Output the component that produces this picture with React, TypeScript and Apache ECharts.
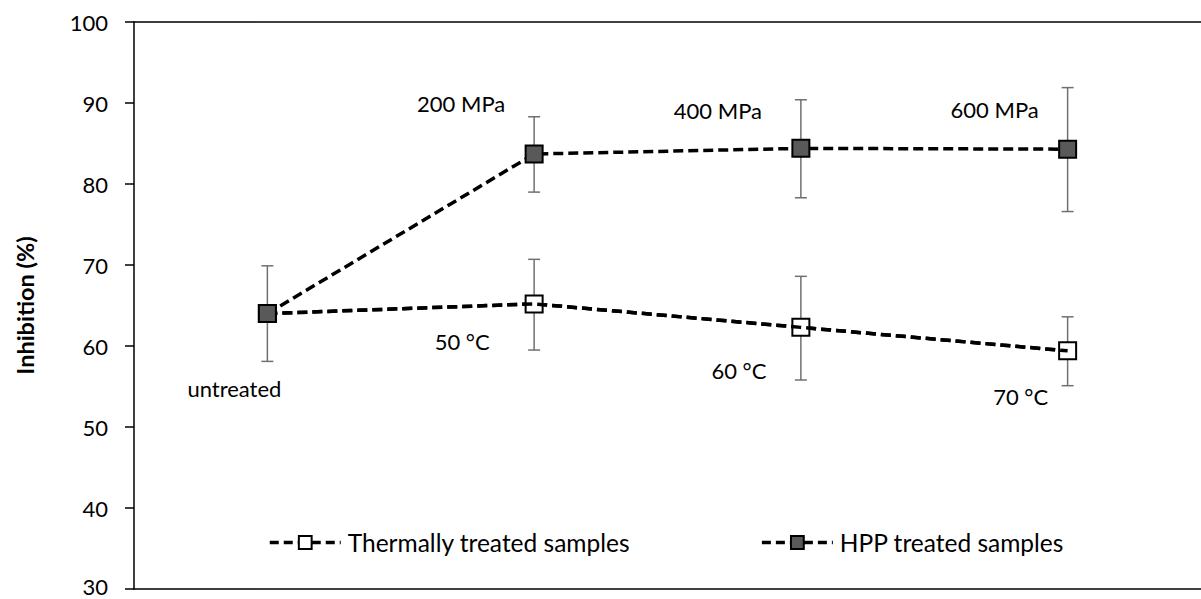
import React, { useEffect, useRef } from "react";
import * as echarts from "echarts";

// ---- Data ----
const categories = ["untreated", "T1", "T2", "T3"];
const thermalName = "Thermally treated samples";
const hppName = "HPP treated samples";
const thermalValues = [64.0, 65.2, 62.3, 59.4];
const thermalLow = [58.1, 59.5, 55.8, 55.1];
const thermalHigh = [69.9, 70.7, 68.6, 63.6];
const hppValues = [64.0, 83.7, 84.4, 84.3];
const hppLow = [58.1, 79.0, 78.3, 76.6];
const hppHigh = [69.9, 88.3, 90.4, 91.9];
const thermalLabels = ["", "50 °C", "60 °C", "70 °C"];
const hppLabels = ["untreated", "200 MPa", "400 MPa", "600 MPa"];
const yMin = 30;
const yMax = 100;
const yInterval = 10;

// ---- Styling (label offsets in px) ----
const thermalLabelOffsets = [[0, 0], [-72, 38], [-62, 43], [-47, 46]];
const hppLabelOffsets = [[-33, 75], [-73, -51], [-83, -38], [-73, -40]];
const FONT = "Lato, 'Open Sans', sans-serif";

function errorData(low: number[], high: number[], skipFirst: boolean) {
  const out: number[][] = [];
  low.forEach((l, i) => {
    if (skipFirst && i === 0) return;
    out.push([i, l, high[i]]);
  });
  return out;
}

function renderError(params: any, api: any) {
  const x = api.value(0);
  const lo = api.coord([x, api.value(1)]);
  const hi = api.coord([x, api.value(2)]);
  const w = 6;
  const style = { stroke: "#707070", lineWidth: 1.5 };
  return {
    type: "group",
    children: [
      { type: "line", shape: { x1: lo[0], y1: lo[1], x2: hi[0], y2: hi[1] }, style },
      { type: "line", shape: { x1: lo[0] - w, y1: lo[1], x2: lo[0] + w, y2: lo[1] }, style },
      { type: "line", shape: { x1: hi[0] - w, y1: hi[1], x2: hi[0] + w, y2: hi[1] }, style },
    ],
  };
}

function labeled(values: number[], labels: string[], offsets: number[][]) {
  return values.map((v, i) => ({
    value: v,
    label: {
      show: labels[i] !== "",
      formatter: labels[i],
      position: "inside",
      offset: offsets[i],
      color: "#000",
      fontSize: 22,
      fontFamily: FONT,
    },
  }));
}

export default function App() {
  const ref = useRef<HTMLDivElement>(null);
  useEffect(() => {
    if (!ref.current) return;
    const chart = echarts.init(ref.current, undefined, { renderer: "svg" });
    const lineStyle = { color: "#000", width: 3.5, type: [10, 5] as any, cap: "butt" as any };
    chart.setOption({
      animation: false,
      backgroundColor: "#fff",
      textStyle: { fontFamily: FONT },
      grid: { left: 134, right: 0, top: 22, bottom: 10, containLabel: false },
      legend: {
        data: [thermalName, hppName],
        left: 263,
        top: 525,
        itemWidth: 71,
        itemHeight: 16,
        itemGap: 130,
        lineStyle: { width: 3.5, color: "#000", type: [9, 5] },
        textStyle: { fontSize: 24.5, color: "#000", fontFamily: FONT, padding: [0, 0, 0, 2] },
      },
      xAxis: [
        {
          type: "category",
          data: categories,
          boundaryGap: true,
          axisLine: { show: true, lineStyle: { color: "#000", width: 1.5 } },
          axisTick: { show: false },
          axisLabel: { show: false },
          splitLine: { show: false },
        },
        {
          type: "category",
          data: categories,
          position: "top",
          boundaryGap: true,
          axisLine: { show: true, lineStyle: { color: "#000", width: 1.5 } },
          axisTick: { show: false },
          axisLabel: { show: false },
          splitLine: { show: false },
        },
      ],
      yAxis: {
        type: "value",
        min: yMin,
        max: yMax,
        interval: yInterval,
        name: "Inhibition (%)",
        nameLocation: "middle",
        nameGap: 97,
        nameTextStyle: { fontSize: 23.5, fontWeight: "bold", color: "#000", fontFamily: FONT },
        axisLine: { show: true, lineStyle: { color: "#000", width: 1.5 } },
        axisTick: { show: true, length: 9, inside: false, lineStyle: { color: "#000", width: 1.5 } },
        axisLabel: {
          fontSize: 22,
          color: "#000",
          margin: 26,
          fontFamily: FONT,
          formatter: (v: number) => (v === yMin ? `{b|${v}}` : `${v}`),
          rich: { b: { fontSize: 22, color: "#000", fontFamily: FONT, padding: [0, 0, 5, 0] } },
        },
        splitLine: { show: false },
      },
      series: [
        {
          type: "custom",
          name: "errT",
          renderItem: renderError,
          data: errorData(thermalLow, thermalHigh, false),
          encode: { x: 0, y: [1, 2] },
          z: 1,
          silent: true,
        },
        {
          type: "custom",
          name: "errH",
          renderItem: renderError,
          data: errorData(hppLow, hppHigh, true),
          encode: { x: 0, y: [1, 2] },
          z: 1,
          silent: true,
        },
        {
          type: "line",
          name: thermalName,
          data: labeled(thermalValues, thermalLabels, thermalLabelOffsets),
          symbol: "rect",
          symbolSize: 17,
          itemStyle: { color: "#fff", borderColor: "#000", borderWidth: 2 },
          lineStyle,
          z: 2,
        },
        {
          type: "line",
          name: "thermalOverlay",
          data: thermalValues,
          symbol: "none",
          showSymbol: false,
          lineStyle,
          z: 3,
          silent: true,
        },
        {
          type: "line",
          name: hppName,
          data: labeled(hppValues, hppLabels, hppLabelOffsets),
          symbol: "rect",
          symbolSize: 17,
          itemStyle: { color: "#595959", borderColor: "#000", borderWidth: 2 },
          lineStyle,
          z: 4,
        },
      ],
    });
    return () => chart.dispose();
  }, []);
  return (
    <div
      ref={ref}
      style={{ position: "absolute", left: 0, top: 0, width: 1201, height: 599, background: "#fff" }}
    />
  );
}
